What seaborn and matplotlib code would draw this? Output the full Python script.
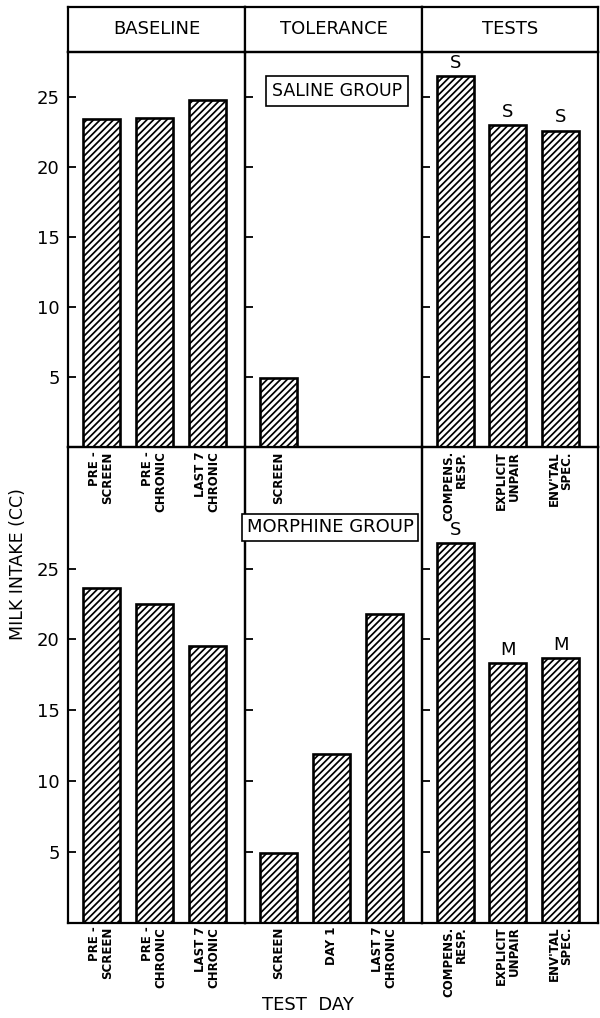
import matplotlib
matplotlib.use("Agg")
import matplotlib.pyplot as plt
import seaborn as sns
import pandas as pd

# ---- data -------------------------------------------------------------
phases = ["BASELINE", "TOLERANCE", "TESTS"]

baseline_days = ["PRE -\nSCREEN", "PRE -\nCHRONIC", "LAST 7\nCHRONIC"]
saline_tolerance_days = ["SCREEN"]
morphine_tolerance_days = ["SCREEN", "DAY 1", "LAST 7\nCHRONIC"]
test_days = ["COMPENS.\nRESP.", "EXPLICIT\nUNPAIR", "ENV'TAL\nSPEC."]

saline_baseline = [23.4, 23.5, 24.8]
saline_tolerance = [4.9]
saline_tests = [26.5, 23.0, 22.6]
saline_marks = ["S", "S", "S"]

morphine_baseline = [23.6, 22.5, 19.5]
morphine_tolerance = [4.9, 11.9, 21.8]
morphine_tests = [26.8, 18.3, 18.7]
morphine_marks = ["S", "M", "M"]

y_ticks = [5, 10, 15, 20, 25]

# ---- style ------------------------------------------------------------
sns.set_style("white")
plt.rcParams["font.family"] = ["DejaVu Sans"]
plt.rcParams["hatch.linewidth"] = 1.25
plt.rcParams["hatch.color"] = "black"
for key in ("text.color", "axes.labelcolor", "xtick.color", "ytick.color"):
    plt.rcParams[key] = "black"

W, H = 600, 1018
fig = plt.figure(figsize=(W / 100, H / 100), dpi=100)


def rect(x0, y0, x1, y1):
    return [x0 / W, 1 - y1 / H, (x1 - x0) / W, (y1 - y0) / H]


col_edges = [68, 245, 422, 598]
header_y = (7, 52)
top_y = (52, 447)
bottom_y = (447, 922.5)
XLIM = (-0.63, 2.71)


def frame(ax, lw=1.6):
    for s in ax.spines.values():
        s.set_visible(True)
        s.set_linewidth(lw)
        s.set_color("black")


# header strip
for i, name in enumerate(phases):
    hax = fig.add_axes(rect(col_edges[i], header_y[0], col_edges[i + 1], header_y[1]))
    hax.set_xticks([])
    hax.set_yticks([])
    frame(hax)
    hax.text(0.5, 0.5, name, ha="center", va="center", fontsize=13,
             transform=hax.transAxes)


def panel(ax, cats, vals, ymax, first_col, marks=None):
    df = pd.DataFrame({"day": cats, "intake": vals})
    sns.barplot(data=df, x="day", y="intake", order=cats, ax=ax,
                color="white", edgecolor="black", linewidth=1.9,
                hatch="/////", width=0.7, errorbar=None, saturation=1)
    ax.set_xlim(*XLIM)
    ax.set_ylim(0, ymax)
    ax.set_xlabel("")
    ax.set_ylabel("")
    ax.patch.set_visible(False)
    frame(ax)
    ax.set_yticks(y_ticks)
    ax.tick_params(axis="y", direction="in", length=6, width=1.3,
                   left=True, right=False, labelsize=13, pad=6)
    if not first_col:
        ax.tick_params(axis="y", labelleft=False)
    ax.set_xticks(range(len(cats)))
    ax.set_xticklabels(cats)
    ax.tick_params(axis="x", length=0, pad=3)
    for lab in ax.get_xticklabels():
        lab.set_rotation(90)
        lab.set_ha("center")
        lab.set_va("top")
        lab.set_multialignment("right")
        lab.set_fontsize(8.5)
        lab.set_fontweight("bold")
        lab.set_linespacing(1.0)
    if marks:
        for i, (v, m) in enumerate(zip(vals, marks)):
            ax.annotate(m, (i, v), xytext=(0, 3), textcoords="offset points",
                        ha="center", va="bottom", fontsize=13)


top_max = (top_y[1] - top_y[0]) / 14.0
bot_max = (bottom_y[1] - bottom_y[0]) / 14.16

rows = [
    (bottom_y, bot_max,
     [(baseline_days, morphine_baseline, None),
      (morphine_tolerance_days, morphine_tolerance, None),
      (test_days, morphine_tests, morphine_marks)]),
    (top_y, top_max,
     [(baseline_days, saline_baseline, None),
      (saline_tolerance_days, saline_tolerance, None),
      (test_days, saline_tests, saline_marks)]),
]

axes = {}
for (y0, y1), ymax, specs in rows:
    for i, (cats, vals, marks) in enumerate(specs):
        ax = fig.add_axes(rect(col_edges[i], y0, col_edges[i + 1], y1))
        panel(ax, cats, vals, ymax, i == 0, marks)
        axes[(y0, i)] = ax

# group boxes
tol_top = axes[(top_y[0], 1)]
tol_top.text(0.52, 25.4, "SALINE GROUP", ha="center", va="center", fontsize=12.5,
             transform=tol_top.get_yaxis_transform(),
             bbox=dict(boxstyle="square,pad=0.35", fc="white", ec="black", lw=1.2))
tol_bot = axes[(bottom_y[0], 1)]
tol_bot.text(0.48, 27.9, "MORPHINE GROUP", ha="center", va="center", fontsize=13,
             transform=tol_bot.get_yaxis_transform(),
             bbox=dict(boxstyle="square,pad=0.25", fc="white", ec="black", lw=1.2))

fig.text(18 / W, 1 - 564 / H, "MILK INTAKE (CC)", rotation=90,
         ha="center", va="center", fontsize=12.5)
fig.text(308 / W, 1 - 1005 / H, "TEST  DAY", ha="center", va="center",
         fontsize=13)

fig.savefig("out.png", dpi=100, facecolor="white")
